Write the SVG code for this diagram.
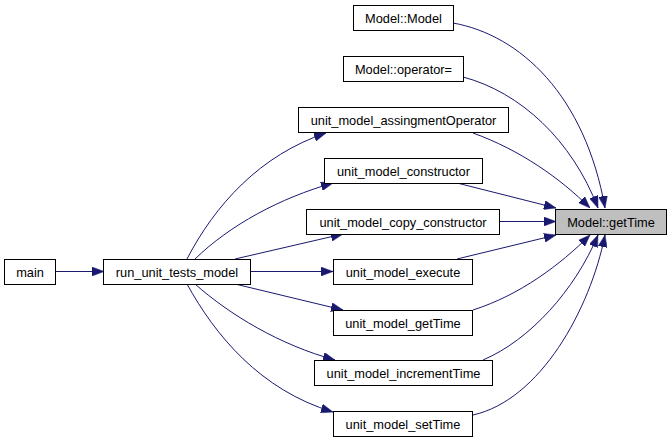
<svg xmlns="http://www.w3.org/2000/svg" width="672" height="443" viewBox="0 0 672 443">
<style>
.n rect{fill:#fff;stroke:#000;stroke-width:1}
.n.hl rect{fill:#bfbfbf}
.n text{font-family:"Liberation Sans",Arial,sans-serif;font-size:12.8px;text-anchor:middle;fill:#000}
.e path{fill:none;stroke:#191970;stroke-width:1;marker-end:url(#ah)}
</style>
<defs>
<marker id="ah" markerUnits="userSpaceOnUse" markerWidth="12" markerHeight="9" viewBox="0 0 12 9" refX="12" refY="4.5" orient="auto">
<path d="M0,0 L12,4.5 L0,9 z" fill="#191970" stroke="#191970" stroke-width="0.5"/>
</marker>
</defs>
<rect width="672" height="443" fill="#fff"/>
<g id="edges" class="e">
<path d="M453,23 C520,35 585,95 605,208"/>
<path d="M463,77 C520,92 572,140 598,208"/>
<path d="M473,133 C520,150 560,178 590,208"/>
<path d="M457,183 L556,208"/>
<path d="M499,221.5 L556,221.5"/>
<path d="M457,259 L556,235"/>
<path d="M473,310 C520,295 560,265 590,235"/>
<path d="M483,360 C530,340 575,290 598,235"/>
<path d="M473,415 C540,400 590,310 605,235"/>
<path d="M56,271.5 L104,271.5"/>
<path d="M187,259 C215,205 260,155 326,133"/>
<path d="M195,259 C230,225 280,198 333,183"/>
<path d="M235,259 L343,234"/>
<path d="M250,271.5 L333,271.5"/>
<path d="M235,284 L343,310"/>
<path d="M195,284 C230,315 280,345 335,360"/>
<path d="M187,284 C215,335 260,390 333,412"/>
</g>
<g id="n_model_model" class="n"><rect x="353.5" y="5.5" width="100" height="25"/><text x="403.5" y="22.5">Model::Model</text></g>
<g id="n_model_operator" class="n"><rect x="343.5" y="56.5" width="120" height="25"/><text x="403.5" y="73.5">Model::operator=</text></g>
<g id="n_assign" class="n"><rect x="298.5" y="107.5" width="210" height="25"/><text x="403.5" y="124.5">unit_model_assingmentOperator</text></g>
<g id="n_constructor" class="n"><rect x="324.5" y="158.5" width="158" height="25"/><text x="403.5" y="175.5">unit_model_constructor</text></g>
<g id="n_copy" class="n"><rect x="306.5" y="209.5" width="193" height="25"/><text x="403" y="226.5">unit_model_copy_constructor</text></g>
<g id="n_gettime" class="n hl"><rect x="555.5" y="209.5" width="111" height="25"/><text x="611" y="226.5">Model::getTime</text></g>
<g id="n_execute" class="n"><rect x="333.5" y="259.5" width="139" height="25"/><text x="403" y="276.5">unit_model_execute</text></g>
<g id="n_unit_gettime" class="n"><rect x="333.5" y="310.5" width="139" height="25"/><text x="403" y="327.5">unit_model_getTime</text></g>
<g id="n_increment" class="n"><rect x="314.5" y="360.5" width="178" height="25"/><text x="403.5" y="377.5">unit_model_incrementTime</text></g>
<g id="n_settime" class="n"><rect x="333.5" y="411.5" width="139" height="25"/><text x="403" y="428.5">unit_model_setTime</text></g>
<g id="n_main" class="n"><rect x="4.5" y="259.5" width="51" height="25"/><text x="30" y="276.5">main</text></g>
<g id="n_run" class="n"><rect x="103.5" y="259.5" width="147" height="25"/><text x="177" y="276.5">run_unit_tests_model</text></g>
</svg>
